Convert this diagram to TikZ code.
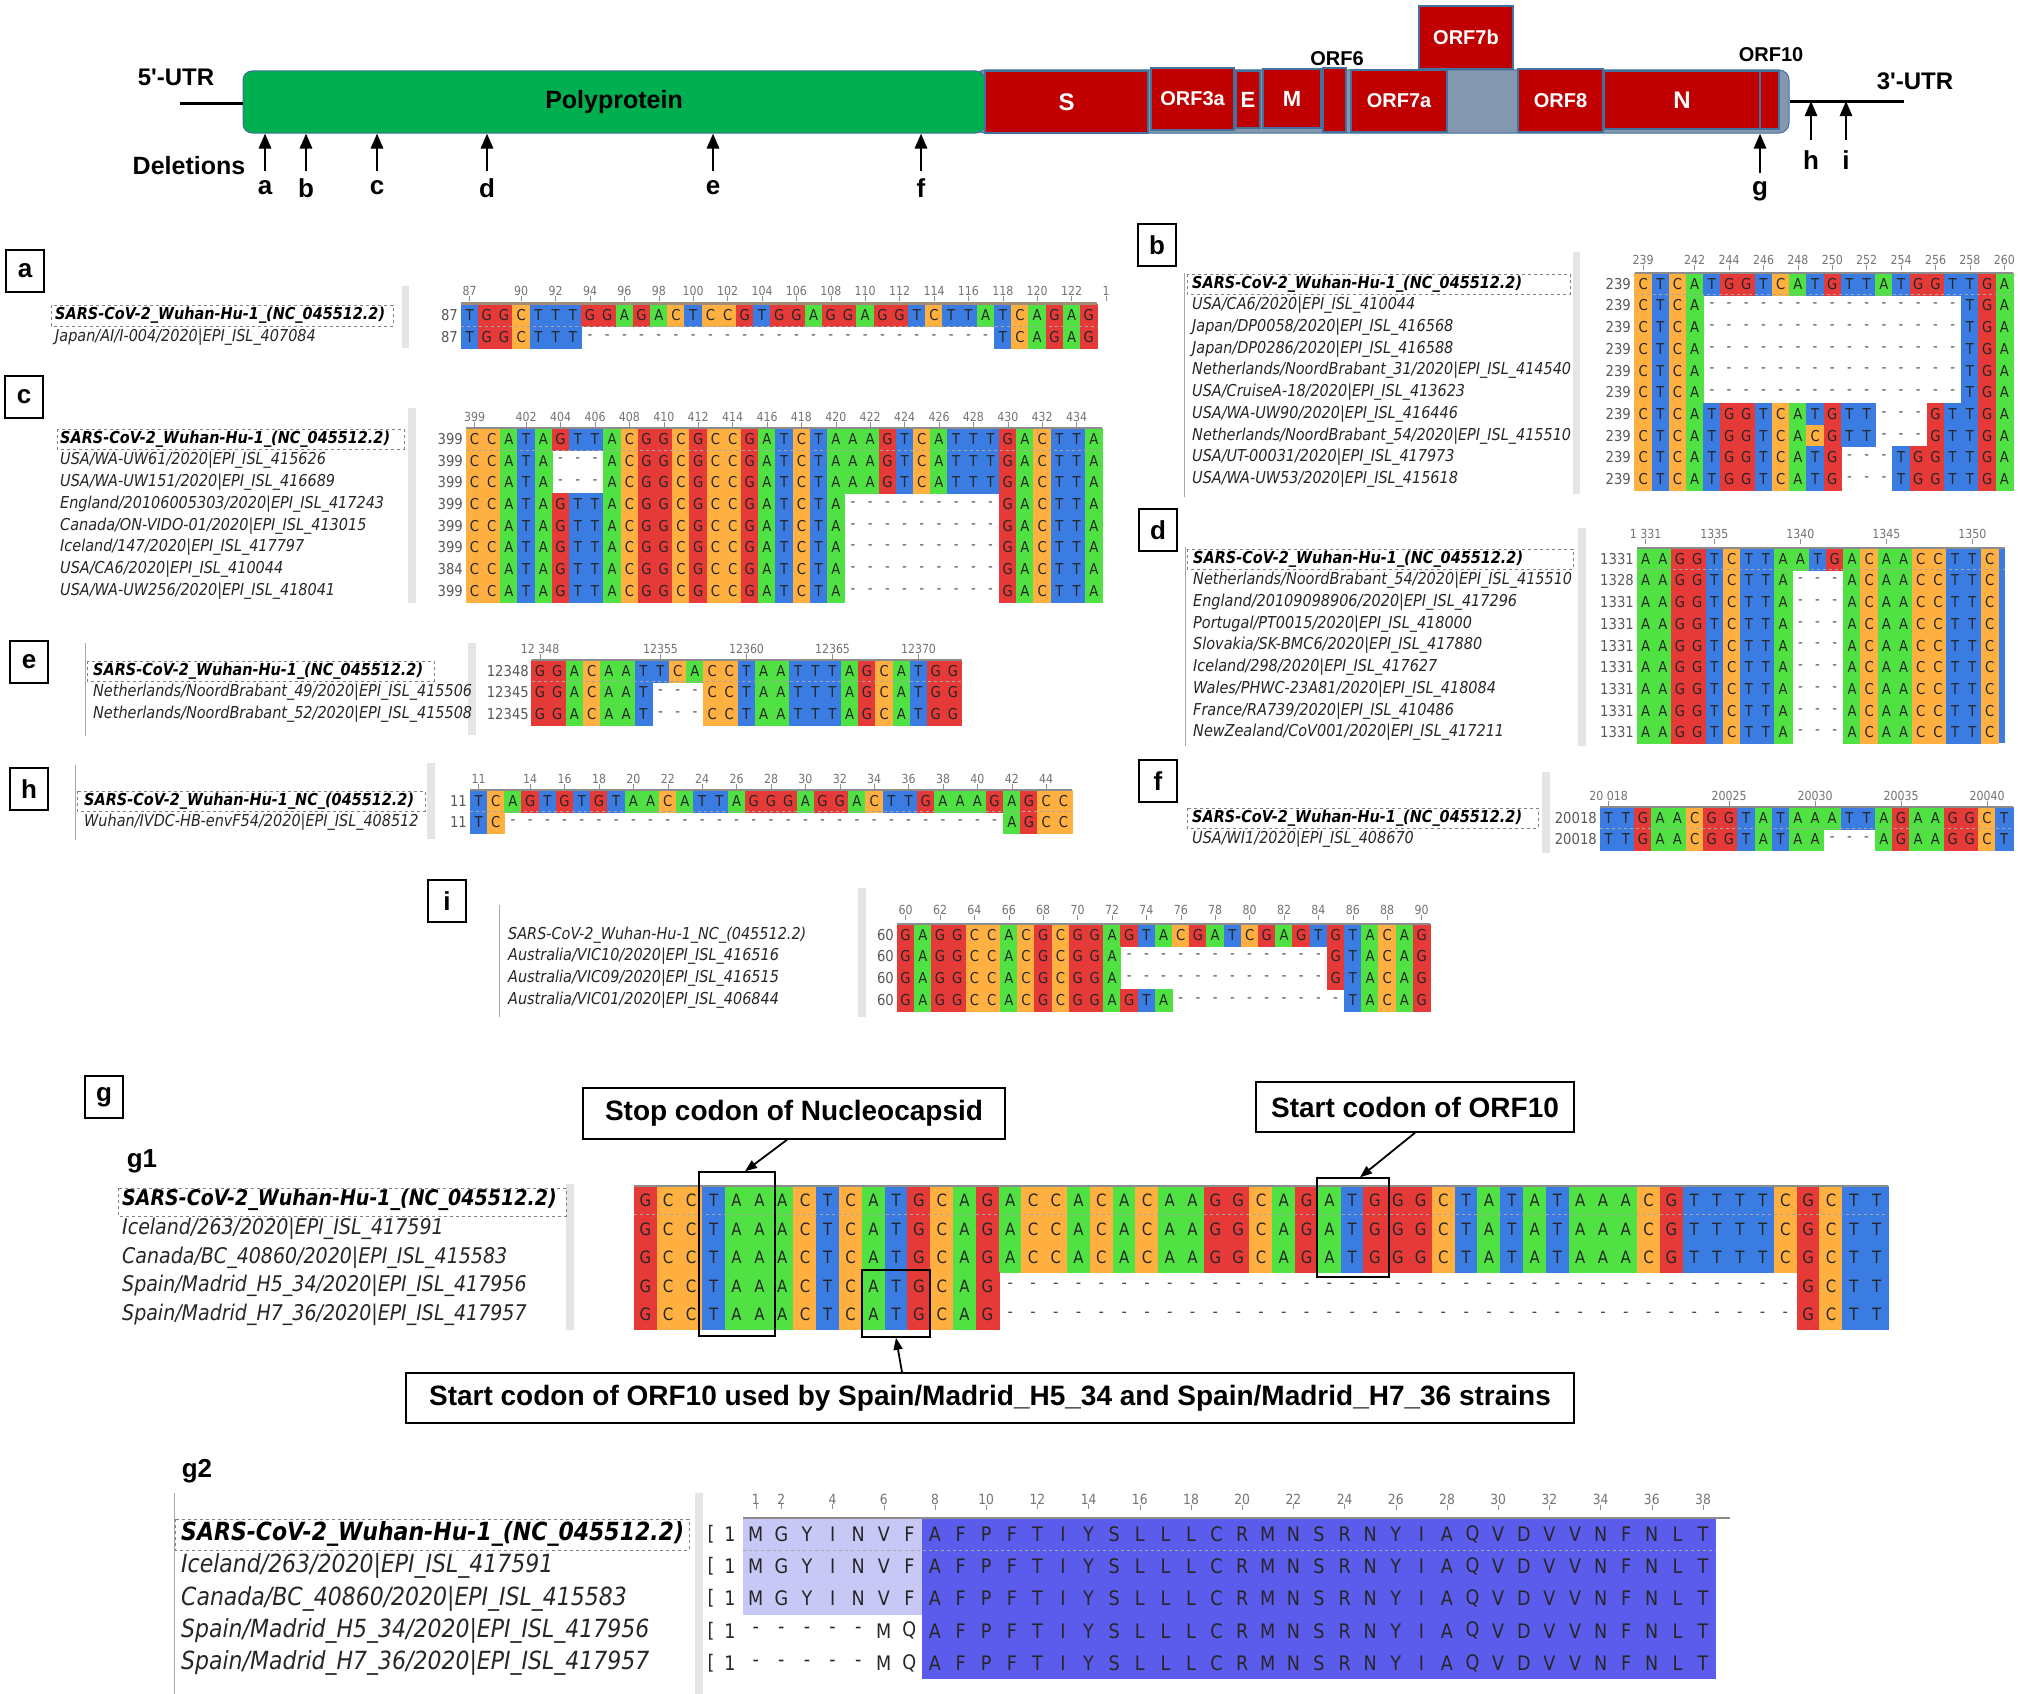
\documentclass[tikz,border=0pt]{standalone}
\usepackage{fontspec}
\setmainfont{Liberation Sans}
\newfontfamily\tah[FakeStretch=0.88]{DejaVu Sans}
\usetikzlibrary{arrows.meta}
\definecolor{ntA}{RGB}{80,226,66}
\definecolor{ntC}{RGB}{255,176,64}
\definecolor{ntG}{RGB}{230,58,56}
\definecolor{ntT}{RGB}{58,124,226}
\definecolor{aaB}{RGB}{92,92,236}
\definecolor{aaL}{RGB}{200,200,246}
\definecolor{polyG}{RGB}{0,176,80}
\definecolor{orfR}{RGB}{192,0,0}
\definecolor{barG}{RGB}{132,151,176}
\definecolor{edgeB}{RGB}{65,113,156}

\newcount\alc
\def\alw{17.2}\def\alh{21.7}\def\alfs{15}\def\nmsize{16.4}\def\rulfs{12.5}
\def\gaps#1{\ifnum#1>0 -\expandafter\gaps\expandafter{\the\numexpr#1-1\relax}\fi}
\newcommand\alrow[4]{\def\alpfx{#1}\def\alxo{#2}\def\alyc{#3}\edef\alseq{#4}\global\alc=0 \expandafter\alloop\alseq\relax}
\def\alloop#1{\ifx\relax#1\else\alcellcmd{#1}\global\advance\alc by 1 \expandafter\alloop\fi}
\def\alcell#1{\pgfmathsetmacro\alxx{\alxo+(\the\alc+0.5)*\alw}\edef\alnm{\alpfx-\the\alc}%
  \if#1-\node[gapc,name=\alnm] at (\alxx,\alyc) {-};\else\node[ntc,fill=nt#1,draw=nt#1,name=\alnm] at (\alxx,\alyc) {#1};\fi}
\def\aacell#1{\pgfmathsetmacro\alxx{\alxo+(\the\alc+0.5)*\alw}\edef\alnm{\alpfx-\the\alc}%
  \node[aac,name=\alnm] at (\alxx,\alyc) {#1};}
\let\alcellcmd\alcell
\newcommand\ruler[4]{\foreach \c/\l in {#4} {\pgfmathsetmacro\rx{#2+(\c+0.5)*\alw}\node[rul] (#1-t\c) at (\rx,#3) {\l}; \draw[tickl] (#1-t\c.south) -- ++(0,5);}}

\tikzset{
 ntc/.style={minimum width=\alw pt, minimum height=\alh pt, inner sep=0pt, line width=0.3pt, font=\tah\fontsize{\alfs}{\alfs}\selectfont, text=black!85},
 gapc/.style={minimum width=\alw pt, minimum height=\alh pt, inner sep=0pt, font=\tah\fontsize{\alfs}{\alfs}\selectfont, text=black!70},
 aac/.style={minimum width=\alw pt, minimum height=\alh pt, inner sep=0pt, font=\tah\fontsize{\alfs}{\alfs}\selectfont, text=black!85},
 nm/.style={anchor=west, inner sep=0pt, font=\tah\itshape\fontsize{\nmsize}{\nmsize}\selectfont, text=black!85},
 nmb/.style={nm, font=\tah\bfseries\itshape\fontsize{\nmsize}{\nmsize}\selectfont, text=black},
 rnum/.style={anchor=east, inner sep=0pt, font=\tah\fontsize{\alfs}{\alfs}\selectfont, text=black!65},
 rul/.style={inner sep=0pt, font=\tah\fontsize{\rulfs}{\rulfs}\selectfont, text=black!55},
 tickl/.style={draw=black!45, line width=0.6pt},
 hdr/.style={draw=black!45, line width=2pt},
 refsep/.style={draw=black!35, dashed, line width=0.6pt},
 wbox/.style={draw=black!50, dashed, line width=0.8pt},
 sepc/.style={fill=black!10},
 lline/.style={draw=black!35, line width=0.8pt},
 plab/.style={draw, line width=1.4pt, fill=white, minimum width=38pt, minimum height=42pt, inner sep=0pt, font=\bfseries\fontsize{26}{28}\selectfont},
 orf/.style={fill=orfR, draw=edgeB, line width=1.2pt, text=white, inner sep=0pt, font=\bfseries\fontsize{20}{22}\selectfont},
 toplab/.style={inner sep=0pt, font=\bfseries\fontsize{20}{22}\selectfont},
 big/.style={inner sep=0pt, font=\bfseries\fontsize{25}{27}\selectfont},
 dellet/.style={inner sep=0pt, font=\bfseries\fontsize{26}{28}\selectfont},
 del/.style={line width=2.8pt, -{Triangle[length=15pt,width=12pt]}},
 utr/.style={line width=3pt},
 gbox/.style={draw, line width=1.5pt, fill=white, inner sep=0pt, font=\bfseries\fontsize{28}{30}\selectfont},
 hbox/.style={draw, line width=1.5pt, inner sep=0pt},
 garrow/.style={line width=1.8pt, -{Triangle[length=12pt,width=9pt]}},
}

\begin{document}
\begin{tikzpicture}[x=1pt,y=-1pt]
\fill[white] (0,0) rectangle (2018,1694);
\useasboundingbox (0,0) rectangle (2018,1694);

% ================= genome map =================
\node[fill=barG, draw=edgeB, line width=1pt, rounded corners=10pt, minimum width=814pt, minimum height=63pt] (bar) at (1382,101.5) {};
\node[fill=polyG, draw=edgeB, line width=1pt, rounded corners=9pt, minimum width=742pt, minimum height=62pt, font=\bfseries\fontsize{25}{27}\selectfont] (poly) at (614,102) {\raisebox{-3pt}{Polyprotein}};
\node[orf, minimum width=163pt, minimum height=62pt, font=\bfseries\fontsize{24}{26}\selectfont] (S) at (1066.5,102) {S};
\node[orf, minimum width=83pt, minimum height=62pt] (orf3a) at (1192.5,99) {ORF3a};
\node[orf, minimum width=24pt, minimum height=57pt, font=\bfseries\fontsize{22}{24}\selectfont] (E) at (1248,99.5) {E};
\node[orf, minimum width=58pt, minimum height=59pt, font=\bfseries\fontsize{22}{24}\selectfont] (M) at (1292,98.5) {M};
\node[orf, minimum width=23pt, minimum height=64pt] (orf6) at (1334.5,100) {};
\node[orf, minimum width=96pt, minimum height=62pt] (orf7a) at (1399,101) {ORF7a};
\node[orf, minimum width=94pt, minimum height=63pt] (orf7b) at (1466,37.5) {ORF7b};
\node[orf, minimum width=85pt, minimum height=63pt] (orf8) at (1560.5,100.5) {ORF8};
\node[orf, minimum width=156pt, minimum height=58pt, font=\bfseries\fontsize{24}{26}\selectfont] (N) at (1682,100) {N};
\node[orf, minimum width=19pt, minimum height=58pt] (orf10) at (1769.5,100) {};
\node[toplab] (l6) at (1337,59) {ORF6};
\node[toplab] (l10) at (1771,55) {ORF10};
\node[inner sep=0pt, font=\bfseries\fontsize{24}{26}\selectfont] (u5lab) at (176,77) {5\textquotesingle-UTR};
\node[inner sep=0pt, font=\bfseries\fontsize{24}{26}\selectfont] (u3lab) at (1915,81) {3\textquotesingle-UTR};
\coordinate (u5) at (180,103);
\coordinate (u3) at (1904,101);
\draw[utr] (u5) -- (u5 -| poly.west);
\draw[utr] (bar.east |- u3) -- (u3);
\node[big] (dels) at (189,166) {Deletions};
\foreach \n/\x in {a/265,b/306,c/377,d/487,e/713,f/921} {
  \node[dellet] (l\n) at (\x,188) {\n};
  \coordinate (t\n) at (\x,171);
  \draw[del] (t\n) -- (t\n |- poly.south);
}
\node[dellet] (lg) at (1760,191) {g};
\coordinate (tg) at (1760,173);
\draw[del] (tg) -- (tg |- bar.south);
\foreach \n/\x in {h/1811,i/1846} {
  \node[dellet] (l\n) at (\x,160) {\n};
  \coordinate (t\n) at (\x,140);
  \draw[del] (t\n) -- (t\n |- u3);
}

% ================= panel a =================
\node[plab] (pa) at (25,271) {a};
\fill[sepc] (402,286) rectangle (409,348);
\draw[wbox] (51,305) rectangle (393,326);
\node[nmb] (a-n1) at (55,315.2) {SARS-CoV-2\_Wuhan-Hu-1\_(NC\_045512.2)};
\node[nm] (a-n2) at (55,336.9) {Japan/AI/I-004/2020|EPI\_ISL\_407084};
\node[rnum] (a-k1) at (458,315.2) {87};
\node[rnum] (a-k2) at (458,336.9) {87};
\alrow{a-r1}{461}{315.2}{TGGCTTTGGAGACTCCGTGGAGGAGGTCTTATCAGAG}
\alrow{a-r2}{461}{336.9}{TGGCTTT\gaps{24}TCAGAG}
\draw[hdr, draw=black!50!brown!60, line width=3pt] (461,303.5) -- (1097.4,303.5);
\draw[refsep] (461,326) -- (1097.4,326);
\ruler{a}{461}{291}{0/87,3/90,5/92,7/94,9/96,11/98,13/100,15/102,17/104,19/106,21/108,23/110,25/112,27/114,29/116,31/118,33/120,35/122,37/1}

% ================= panel c =================
\node[plab] (pc) at (24,397) {c};
\fill[sepc] (408,408) rectangle (416,603);
\draw[wbox] (57,429) rectangle (404,449);
\node[nmb] (c-n1) at (60,438.9) {SARS-CoV-2\_Wuhan-Hu-1\_(NC\_045512.2)};
\node[nm] (c-n2) at (60,460.6) {USA/WA-UW61/2020|EPI\_ISL\_415626};
\node[nm] (c-n3) at (60,482.3) {USA/WA-UW151/2020|EPI\_ISL\_416689};
\node[nm] (c-n4) at (60,504.0) {England/20106005303/2020|EPI\_ISL\_417243};
\node[nm] (c-n5) at (60,525.7) {Canada/ON-VIDO-01/2020|EPI\_ISL\_413015};
\node[nm] (c-n6) at (60,547.4) {Iceland/147/2020|EPI\_ISL\_417797};
\node[nm] (c-n7) at (60,569.1) {USA/CA6/2020|EPI\_ISL\_410044};
\node[nm] (c-n8) at (60,590.8) {USA/WA-UW256/2020|EPI\_ISL\_418041};
\foreach \r/\y/\k in {1/438.9/399,2/460.6/399,3/482.3/399,4/504.0/399,5/525.7/399,6/547.4/399,7/569.1/384,8/590.8/399} {\node[rnum] (c-k\r) at (463,\y) {\k};}
\alrow{c-r1}{466}{438.9}{CCATAGTTACGGCGCCGATCTAAAGTCATTTGACTTA}
\alrow{c-r2}{466}{460.6}{CCATA\gaps{3}ACGGCGCCGATCTAAAGTCATTTGACTTA}
\alrow{c-r3}{466}{482.3}{CCATA\gaps{3}ACGGCGCCGATCTAAAGTCATTTGACTTA}
\alrow{c-r4}{466}{504.0}{CCATAGTTACGGCGCCGATCTA\gaps{9}GACTTA}
\alrow{c-r5}{466}{525.7}{CCATAGTTACGGCGCCGATCTA\gaps{9}GACTTA}
\alrow{c-r6}{466}{547.4}{CCATAGTTACGGCGCCGATCTA\gaps{9}GACTTA}
\alrow{c-r7}{466}{569.1}{CCATAGTTACGGCGCCGATCTA\gaps{9}GACTTA}
\alrow{c-r8}{466}{590.8}{CCATAGTTACGGCGCCGATCTA\gaps{9}GACTTA}
\draw[hdr] (466,428) -- (1102.4,428);
\draw[refsep] (466,449.8) -- (1102.4,449.8);
\ruler{c}{466}{417}{0/399,3/402,5/404,7/406,9/408,11/410,13/412,15/414,17/416,19/418,21/420,23/422,25/424,27/426,29/428,31/430,33/432,35/434}

% ================= panel b =================
\node[plab] (pb) at (1157,245) {b};
\draw[lline] (1184,273) -- (1184,497);
\fill[sepc] (1573,252) rectangle (1580,494);
\draw[wbox] (1187,274) rectangle (1570,294);
\node[nmb] (b-n1) at (1192,283.8) {SARS-CoV-2\_Wuhan-Hu-1\_(NC\_045512.2)};
\node[nm] (b-n2) at (1192,305.5) {USA/CA6/2020|EPI\_ISL\_410044};
\node[nm] (b-n3) at (1192,327.2) {Japan/DP0058/2020|EPI\_ISL\_416568};
\node[nm] (b-n4) at (1192,348.9) {Japan/DP0286/2020|EPI\_ISL\_416588};
\node[nm] (b-n5) at (1192,370.6) {Netherlands/NoordBrabant\_31/2020|EPI\_ISL\_414540};
\node[nm] (b-n6) at (1192,392.3) {USA/CruiseA-18/2020|EPI\_ISL\_413623};
\node[nm] (b-n7) at (1192,414.0) {USA/WA-UW90/2020|EPI\_ISL\_416446};
\node[nm] (b-n8) at (1192,435.7) {Netherlands/NoordBrabant\_54/2020|EPI\_ISL\_415510};
\node[nm] (b-n9) at (1192,457.4) {USA/UT-00031/2020|EPI\_ISL\_417973};
\node[nm] (b-n10) at (1192,479.1) {USA/WA-UW53/2020|EPI\_ISL\_415618};
\foreach \r/\y in {1/283.8,2/305.5,3/327.2,4/348.9,5/370.6,6/392.3,7/414.0,8/435.7,9/457.4,10/479.1} {\node[rnum] (b-k\r) at (1631,\y) {239};}
\alrow{b-r1}{1634.5}{283.8}{CTCATGGTCATGTTATGGTTGA}
\alrow{b-r2}{1634.5}{305.5}{CTCA\gaps{15}TGA}
\alrow{b-r3}{1634.5}{327.2}{CTCA\gaps{15}TGA}
\alrow{b-r4}{1634.5}{348.9}{CTCA\gaps{15}TGA}
\alrow{b-r5}{1634.5}{370.6}{CTCA\gaps{15}TGA}
\alrow{b-r6}{1634.5}{392.3}{CTCA\gaps{15}TGA}
\alrow{b-r7}{1634.5}{414.0}{CTCATGGTCATGTT\gaps{3}GTTGA}
\alrow{b-r8}{1634.5}{435.7}{CTCATGGTCACGTT\gaps{3}GTTGA}
\alrow{b-r9}{1634.5}{457.4}{CTCATGGTCATG\gaps{3}TGGTTGA}
\alrow{b-r10}{1634.5}{479.1}{CTCATGGTCATG\gaps{3}TGGTTGA}
\draw[hdr] (1634.5,273) -- (2012.9,273);
\draw[refsep] (1634.5,294.7) -- (2012.9,294.7);
\ruler{b}{1634.5}{260}{0/239,3/242,5/244,7/246,9/248,11/250,13/252,15/254,17/256,19/258,21/260}

% ================= panel d =================
\node[plab] (pd) at (1158,530) {d};
\draw[lline] (1185,547) -- (1185,746);
\fill[sepc] (1578,528) rectangle (1586,746);
\draw[wbox] (1187,549) rectangle (1573,569);
\node[nmb] (d-n1) at (1193,558.8) {SARS-CoV-2\_Wuhan-Hu-1\_(NC\_045512.2)};
\node[nm] (d-n2) at (1193,580.5) {Netherlands/NoordBrabant\_54/2020|EPI\_ISL\_415510};
\node[nm] (d-n3) at (1193,602.2) {England/20109098906/2020|EPI\_ISL\_417296};
\node[nm] (d-n4) at (1193,623.9) {Portugal/PT0015/2020|EPI\_ISL\_418000};
\node[nm] (d-n5) at (1193,645.6) {Slovakia/SK-BMC6/2020|EPI\_ISL\_417880};
\node[nm] (d-n6) at (1193,667.3) {Iceland/298/2020|EPI\_ISL\_417627};
\node[nm] (d-n7) at (1193,689.0) {Wales/PHWC-23A81/2020|EPI\_ISL\_418084};
\node[nm] (d-n8) at (1193,710.7) {France/RA739/2020|EPI\_ISL\_410486};
\node[nm] (d-n9) at (1193,732.4) {NewZealand/CoV001/2020|EPI\_ISL\_417211};
\foreach \r/\y/\k in {1/558.8/1331,2/580.5/1328,3/602.2/1331,4/623.9/1331,5/645.6/1331,6/667.3/1331,7/689.0/1331,8/710.7/1331,9/732.4/1331} {\node[rnum] (d-k\r) at (1634,\y) {\k};}
\fill[ntT] (1998,548) rectangle (2005,743.3);
\alrow{d-r1}{1637}{558.8}{AAGGTCTTAATGACAACCTTC}
\alrow{d-r2}{1637}{580.5}{AAGGTCTTA\gaps{3}ACAACCTTC}
\alrow{d-r3}{1637}{602.2}{AAGGTCTTA\gaps{3}ACAACCTTC}
\alrow{d-r4}{1637}{623.9}{AAGGTCTTA\gaps{3}ACAACCTTC}
\alrow{d-r5}{1637}{645.6}{AAGGTCTTA\gaps{3}ACAACCTTC}
\alrow{d-r6}{1637}{667.3}{AAGGTCTTA\gaps{3}ACAACCTTC}
\alrow{d-r7}{1637}{689.0}{AAGGTCTTA\gaps{3}ACAACCTTC}
\alrow{d-r8}{1637}{710.7}{AAGGTCTTA\gaps{3}ACAACCTTC}
\alrow{d-r9}{1637}{732.4}{AAGGTCTTA\gaps{3}ACAACCTTC}
\draw[hdr] (1637,548) -- (2005,548);
\draw[refsep] (1637,569.6) -- (2005,569.6);
\ruler{d}{1637}{534}{0/1 331,4/1335,9/1340,14/1345,19/1350}

% ================= panel e =================
\node[plab] (pe) at (29,662) {e};
\draw[lline] (85,643) -- (85,736);
\fill[sepc] (468,643) rectangle (476,735);
\draw[wbox] (87,661) rectangle (434,681);
\node[nmb] (e-n1) at (93,670.8) {SARS-CoV-2\_Wuhan-Hu-1\_(NC\_045512.2)};
\node[nm] (e-n2) at (93,692.5) {Netherlands/NoordBrabant\_49/2020|EPI\_ISL\_415506};
\node[nm] (e-n3) at (93,714.2) {Netherlands/NoordBrabant\_52/2020|EPI\_ISL\_415508};
\node[rnum] (e-k1) at (529,670.8) {12348};
\node[rnum] (e-k2) at (529,692.5) {12345};
\node[rnum] (e-k3) at (529,714.2) {12345};
\alrow{e-r1}{531.5}{670.8}{GGACAATTCACCTAATTTAGCATGG}
\alrow{e-r2}{531.5}{692.5}{GGACAAT\gaps{3}CCTAATTTAGCATGG}
\alrow{e-r3}{531.5}{714.2}{GGACAAT\gaps{3}CCTAATTTAGCATGG}
\draw[hdr] (531.5,660) -- (961.5,660);
\draw[refsep] (531.5,681.6) -- (961.5,681.6);
\ruler{e}{531.5}{649}{0/12 348,7/12355,12/12360,17/12365,22/12370}

% ================= panel h =================
\node[plab] (ph) at (29,789) {h};
\draw[lline] (75,765) -- (75,840);
\fill[sepc] (427,763) rectangle (435,839);
\draw[wbox] (77,791) rectangle (425,811);
\node[nmb] (h-n1) at (84,800.8) {SARS-CoV-2\_Wuhan-Hu-1\_NC\_(045512.2)};
\node[nm] (h-n2) at (84,822.5) {Wuhan/IVDC-HB-envF54/2020|EPI\_ISL\_408512};
\node[rnum] (h-k1) at (467,800.8) {11};
\node[rnum] (h-k2) at (467,822.5) {11};
\alrow{h-r1}{470}{800.8}{TCAGTGTGTAACATTAGGGAGGACTTGAAAGAGCC}
\alrow{h-r2}{470}{822.5}{TC\gaps{29}AGCC}
\draw[hdr] (470,790) -- (1072,790);
\draw[refsep] (470,811.6) -- (1072,811.6);
\ruler{h}{470}{779}{0/11,3/14,5/16,7/18,9/20,11/22,13/24,15/26,17/28,19/30,21/32,23/34,25/36,27/38,29/40,31/42,33/44}

% ================= panel f =================
\node[plab] (pf) at (1158,781) {f};
\fill[sepc] (1542,772) rectangle (1550,853);
\draw[wbox] (1187,808) rectangle (1538,828);
\node[nmb] (f-n1) at (1192,817.8) {SARS-CoV-2\_Wuhan-Hu-1\_(NC\_045512.2)};
\node[nm] (f-n2) at (1192,839.5) {USA/WI1/2020|EPI\_ISL\_408670};
\node[rnum] (f-k1) at (1597,817.8) {20018};
\node[rnum] (f-k2) at (1597,839.5) {20018};
\alrow{f-r1}{1600}{817.8}{TTGAACGGTATAAATTAGAAGGCT}
\alrow{f-r2}{1600}{839.5}{TTGAACGGTATAA\gaps{3}AGAAGGCT}
\draw[hdr] (1600,807) -- (2012.8,807);
\draw[refsep] (1600,828.6) -- (2012.8,828.6);
\ruler{f}{1600}{796}{0/20 018,7/20025,12/20030,17/20035,22/20040}

% ================= panel i =================
\node[plab] (pi) at (447,901) {i};
\draw[lline] (499,905) -- (499,1017);
\fill[sepc] (858,888) rectangle (866,1017);
\node[nm] (i-n1) at (508,934.8) {SARS-CoV-2\_Wuhan-Hu-1\_NC\_(045512.2)};
\node[nm] (i-n2) at (508,956.5) {Australia/VIC10/2020|EPI\_ISL\_416516};
\node[nm] (i-n3) at (508,978.2) {Australia/VIC09/2020|EPI\_ISL\_416515};
\node[nm] (i-n4) at (508,999.9) {Australia/VIC01/2020|EPI\_ISL\_406844};
\foreach \r/\y in {1/934.8,2/956.5,3/978.2,4/999.9} {\node[rnum] (i-k\r) at (894,\y) {60};}
\alrow{i-r1}{897}{934.8}{GAGGCCACGCGGAGTACGATCGAGTGTACAG}
\alrow{i-r2}{897}{956.5}{GAGGCCACGCGGA\gaps{12}GTACAG}
\alrow{i-r3}{897}{978.2}{GAGGCCACGCGGA\gaps{12}GTACAG}
\alrow{i-r4}{897}{999.9}{GAGGCCACGCGGAGTA\gaps{10}TACAG}
\draw[hdr] (897,924) -- (1430.2,924);
\ruler{i}{897}{910}{0/60,2/62,4/64,6/66,8/68,10/70,12/72,14/74,16/76,18/78,20/80,22/82,24/84,26/86,28/88,30/90}

% ================= panel g1 =================
\node[plab] (pg) at (104,1097) {g};
\node[inner sep=0pt, font=\bfseries\fontsize{26}{28}\selectfont] (g1lab) at (142,1161) {g1};
\def\alw{22.8}\def\alh{28.6}\def\alfs{17}\def\nmsize{21.6}
\fill[sepc] (566,1184) rectangle (574,1330);
\draw[wbox] (118,1188) rectangle (566,1216);
\node[nmb] (g1-n1) at (122,1200.3) {SARS-CoV-2\_Wuhan-Hu-1\_(NC\_045512.2)};
\node[nm] (g1-n2) at (122,1228.9) {Iceland/263/2020|EPI\_ISL\_417591};
\node[nm] (g1-n3) at (122,1257.5) {Canada/BC\_40860/2020|EPI\_ISL\_415583};
\node[nm] (g1-n4) at (122,1286.1) {Spain/Madrid\_H5\_34/2020|EPI\_ISL\_417956};
\node[nm] (g1-n5) at (122,1314.7) {Spain/Madrid\_H7\_36/2020|EPI\_ISL\_417957};
\alrow{g1-r1}{634}{1200.3}{GCCTAAACTCATGCAGACCACACAAGGCAGATGGGCTATATAAACGTTTTCGCTT}
\alrow{g1-r2}{634}{1228.9}{GCCTAAACTCATGCAGACCACACAAGGCAGATGGGCTATATAAACGTTTTCGCTT}
\alrow{g1-r3}{634}{1257.5}{GCCTAAACTCATGCAGACCACACAAGGCAGATGGGCTATATAAACGTTTTCGCTT}
\alrow{g1-r4}{634}{1286.1}{GCCTAAACTCATGCAG\gaps{35}GCTT}
\alrow{g1-r5}{634}{1314.7}{GCCTAAACTCATGCAG\gaps{35}GCTT}
\draw[hdr] (634,1186) -- (1888,1186);
\draw[refsep] (634,1214.6) -- (1888,1214.6);

\node[gbox, minimum width=422pt, minimum height=51pt] (stopbox) at (794,1113.5) {Stop codon of Nucleocapsid};
\node[hbox, minimum width=76pt, minimum height=164pt] (taabox) at (737,1254) {};
\draw[garrow] ([xshift=-7pt]stopbox.south) -- ([xshift=8pt]taabox.north);
\node[gbox, minimum width=318pt, minimum height=50pt] (startbox) at (1415,1107) {Start codon of ORF10};
\node[hbox, minimum width=72pt, minimum height=99pt] (atgbox) at (1353,1227.5) {};
\draw[garrow] (startbox.south) -- ([xshift=7pt]atgbox.north);
\node[hbox, minimum width=68pt, minimum height=67pt] (spbox) at (896,1303.5) {};
\node[gbox, minimum width=1168pt, minimum height=50pt] (botbox) at (990,1398) {Start codon of ORF10 used by Spain/Madrid\_H5\_34 and Spain/Madrid\_H7\_36 strains};
\draw[garrow] ([xshift=-88pt]botbox.north) -- (spbox.south);

% ================= panel g2 =================
\node[inner sep=0pt, font=\bfseries\fontsize{26}{28}\selectfont] (g2lab) at (197,1471) {g2};
\def\alw{25.6}\def\alh{32.2}\def\alfs{20}\def\nmsize{25}\def\rulfs{14}
\draw[lline] (174,1493) -- (174,1694);
\fill[sepc] (695,1493) rectangle (703,1694);
\draw[wbox] (175,1519) rectangle (689,1550);
\node[nmb] (g2-n1) at (181,1534.1) {SARS-CoV-2\_Wuhan-Hu-1\_(NC\_045512.2)};
\node[nm] (g2-n2) at (181,1566.3) {Iceland/263/2020|EPI\_ISL\_417591};
\node[nm] (g2-n3) at (181,1598.5) {Canada/BC\_40860/2020|EPI\_ISL\_415583};
\node[nm] (g2-n4) at (181,1630.7) {Spain/Madrid\_H5\_34/2020|EPI\_ISL\_417956};
\node[nm] (g2-n5) at (181,1662.9) {Spain/Madrid\_H7\_36/2020|EPI\_ISL\_417957};
\fill[aaL] (743,1518) rectangle (922.2,1614.6);
\fill[aaB] (922.2,1518) rectangle (1716,1679);
\foreach \r/\y in {1/1534.1,2/1566.3,3/1598.5,4/1630.7,5/1662.9} {
  \node[aac, minimum width=10pt] (g2-b\r) at (711,\y) {[};
  \node[aac, minimum width=10pt] (g2-o\r) at (730,\y) {1};
}
\let\alcellcmd\aacell
\alrow{g2-r1}{743}{1534.1}{MGYINVFAFPFTIYSLLLCRMNSRNYIAQVDVVNFNLT}
\alrow{g2-r2}{743}{1566.3}{MGYINVFAFPFTIYSLLLCRMNSRNYIAQVDVVNFNLT}
\alrow{g2-r3}{743}{1598.5}{MGYINVFAFPFTIYSLLLCRMNSRNYIAQVDVVNFNLT}
\alrow{g2-r4}{743}{1630.7}{\gaps{5}MQAFPFTIYSLLLCRMNSRNYIAQVDVVNFNLT}
\alrow{g2-r5}{743}{1662.9}{\gaps{5}MQAFPFTIYSLLLCRMNSRNYIAQVDVVNFNLT}
\draw[hdr] (743,1518) -- (1730,1518);
\draw[refsep] (743,1550.2) -- (1716,1550.2);
\ruler{g2}{743}{1499}{0/1,1/2,3/4,5/6,7/8,9/10,11/12,13/14,15/16,17/18,19/20,21/22,23/24,25/26,27/28,29/30,31/32,33/34,35/36,37/38}
\end{tikzpicture}
\end{document}
